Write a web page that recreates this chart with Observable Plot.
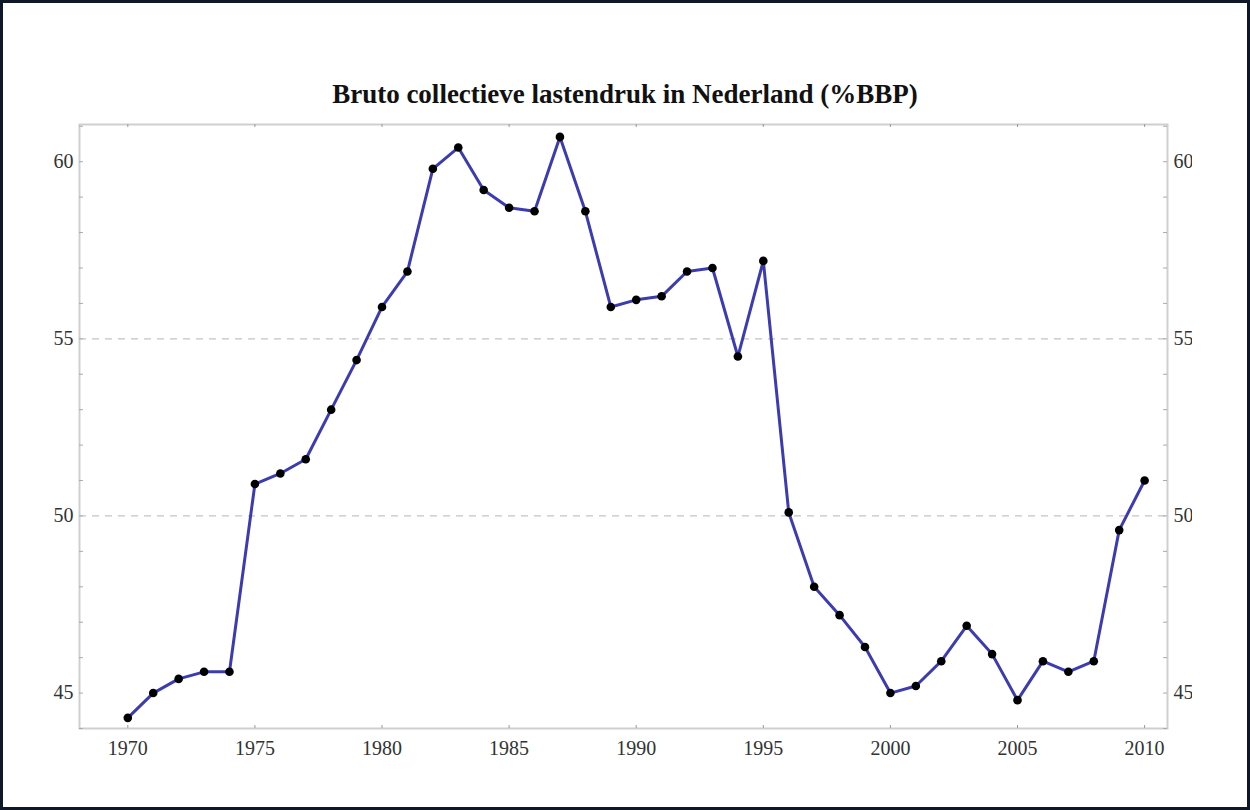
<!DOCTYPE html>
<html>
<head>
<meta charset="utf-8">
<script src="https://cdn.jsdelivr.net/npm/d3@7"></script>
<script src="https://cdn.jsdelivr.net/npm/@observablehq/plot@0.6"></script>
<style>
  html, body { margin: 0; padding: 0; background: #fff; }
  #page { position: relative; width: 1250px; height: 810px; overflow: hidden; background: #fff; }
  #title { position: absolute; left: 0; top: 81px; width: 1250px; text-align: center;
           font-family: "Liberation Serif", "Times New Roman", serif; font-weight: bold;
           font-size: 27px; line-height: 27px; color: #111; }
  #clip { position: absolute; left: 0; top: 0; width: 1192px; height: 810px; overflow: hidden; }
  #clip svg { max-width: none !important; }
  #border { position: absolute; left: 0; top: 0; width: 1250px; height: 810px; box-sizing: border-box;
            border: 3px solid #0e1828; pointer-events: none; }
</style>
</head>
<body>
<div id="page">
  <div id="clip"></div>
  <div id="title">Bruto collectieve lastendruk in Nederland (%BBP)</div>
  <div id="border"></div>
</div>
<script>
const years = [1970,1971,1972,1973,1974,1975,1976,1977,1978,1979,
               1980,1981,1982,1983,1984,1985,1986,1987,1988,1989,
               1990,1991,1992,1993,1994,1995,1996,1997,1998,1999,
               2000,2001,2002,2003,2004,2005,2006,2007,2008,2009,2010];
const values = [44.3,45.0,45.4,45.6,45.6,50.9,51.2,51.6,53.0,54.4,
                55.9,56.9,59.8,60.4,59.2,58.7,58.6,60.7,58.6,55.9,
                56.1,56.2,56.9,57.0,54.5,57.2,50.1,48.0,47.2,46.3,
                45.0,45.2,45.9,46.9,46.1,44.8,45.9,45.6,45.9,49.6,51.0];
const xTicks = [1970,1975,1980,1985,1990,1995,2000,2005,2010];
const yTicks = [45,50,55,60];
const yMinorTicks = [44,45,46,47,48,49,50,51,52,53,54,55,56,57,58,59,60,61];
const gridValues = [50,55];

const data = years.map((year, i) => ({year, value: values[i]}));

const W = 1250, H = 810;
const mL = 79, mR = 83, mT = 124, mB = 82;
const innerW = W - mL - mR, innerH = H - mT - mB;

const chart = Plot.plot({
  width: W,
  height: H,
  marginLeft: mL,
  marginRight: mR,
  marginTop: mT,
  marginBottom: mB,
  style: {fontFamily: "Liberation Serif, Times New Roman, serif", fontSize: "20px", color: "#333", background: "transparent", maxWidth: "none"},
  x: {domain: [1968.1, 2010.9]},
  y: {domain: [44.0, 61.05]},
  marks: [
    Plot.ruleY(gridValues, {y: d => d, stroke: "#c4c4c4", strokeWidth: 1.3, strokeDasharray: "7,6"}),
    Plot.frame({stroke: "#cfcfcf", strokeWidth: 2}),
    Plot.tickY(yMinorTicks, {y: d => d, stroke: "#aaa", insetRight: innerW - 4}),
    Plot.tickY(yMinorTicks, {y: d => d, stroke: "#aaa", insetLeft: innerW - 4}),
    Plot.tickX(xTicks, {x: d => d, stroke: "#999", insetTop: innerH - 3}),
    Plot.tickX(xTicks, {x: d => d, stroke: "#999", insetBottom: innerH - 3}),
    Plot.axisX(xTicks, {anchor: "bottom", tickSize: 0, tickPadding: 12, label: null, tickFormat: d => String(d), fill: "#333", fontSize: 20}),
    Plot.axisY(yTicks, {anchor: "left", tickSize: 0, tickPadding: 6, label: null, fill: "#333", fontSize: 20}),
    Plot.axisY(yTicks, {anchor: "right", tickSize: 0, tickPadding: 6, label: null, fill: "#333", fontSize: 20}),
    Plot.line(data, {x: "year", y: "value", stroke: "#3c3cb0", strokeWidth: 3}),
    Plot.dot(data, {x: "year", y: "value", r: 4.3, fill: "#000", stroke: "none"})
  ]
});
chart.style.maxWidth = "none";
document.getElementById("clip").appendChild(chart);
</script>
</body>
</html>
